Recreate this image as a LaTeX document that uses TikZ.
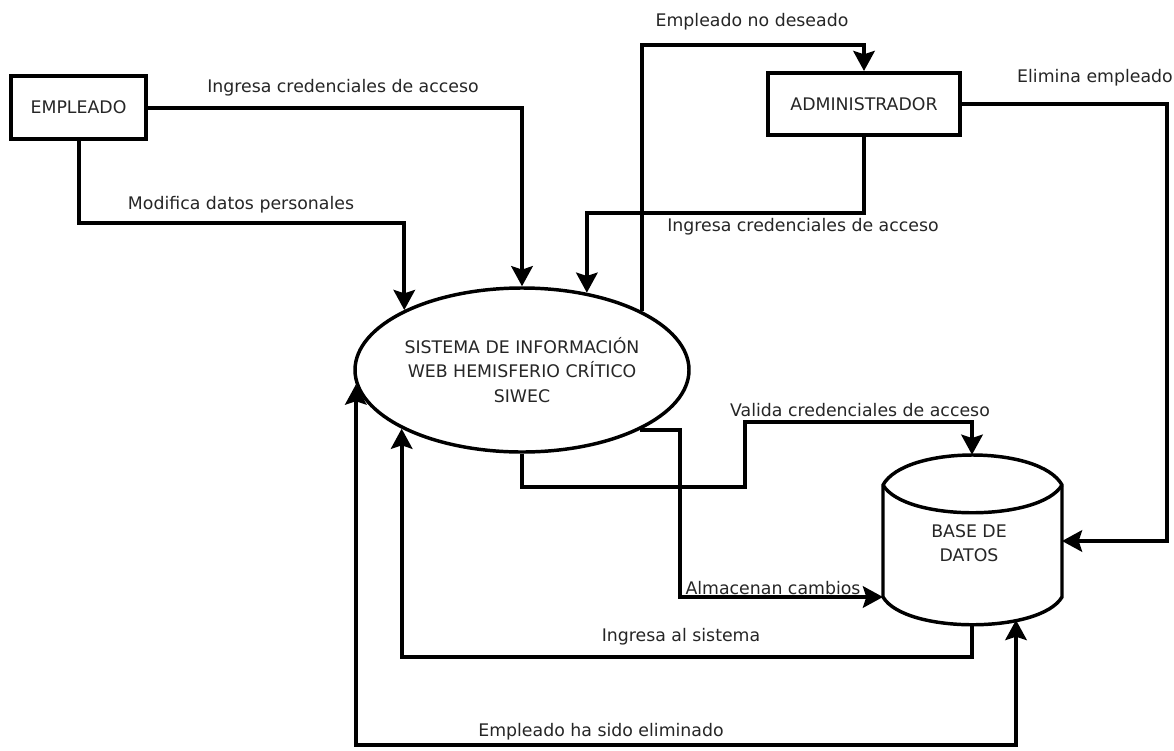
\documentclass[tikz,border=0pt]{standalone}
\usepackage{fontspec}
\setmainfont{DejaVu Sans}
\usetikzlibrary{arrows.meta,shapes.geometric}
\begin{document}
\begin{tikzpicture}[x=0.75pt,y=-0.75pt,
  every node/.style={font=\fontsize{13}{18.4}\selectfont, text=black!85},
  entity/.style={draw=black, line width=3pt, inner sep=0pt, minimum height=47pt},
  proc/.style={draw=black, ellipse, line width=2.6pt, inner sep=0pt, minimum width=250.5pt, minimum height=123pt, align=center},
  tip/.style={},
  flow/.style={draw=black, line width=3pt, -{Stealth[length=15pt,width=16pt,inset=2.5pt]}},
  flowboth/.style={draw=black, line width=3pt, {Stealth[length=15pt,width=16pt,inset=2.5pt]}-{Stealth[length=15pt,width=16pt,inset=2.5pt]}},
  lbl/.style={inner sep=0pt}
]
\useasboundingbox (0,0) rectangle (1174,750);
\fill[white] (0,0) rectangle (1174,750);

% entities
\node[entity, minimum width=101.25pt] (empleado) at (78.5,107.5) {EMPLEADO};
\node[entity, minimum width=144pt, minimum height=46.5pt] (admin) at (864,104) {ADMINISTRADOR};
\node[proc] (sistema) at (522,370) {SISTEMA DE INFORMACIÓN\\WEB HEMISFERIO CRÍTICO\\SIWEC};

% database cylinder
\node[inner sep=0pt, minimum width=134pt, minimum height=127.5pt] (bd) at (972,540) {};
\node[lbl, align=center] (bdtext) at (969,543) {BASE DE\\DATOS};
\coordinate (bdTL) at (883,485);
\coordinate (bdTR) at (1062,485);
\coordinate (bdBL) at (883,597);
\coordinate (bdBR) at (1062,597);
\coordinate (bdR) at (1062,541);
\coordinate (bdB2) at (1016,620);
\coordinate (bdB1) at (972,625);
\draw[line width=2.6pt, line join=miter]
  (bdTL) .. controls (905,445) and (1040,445) .. (bdTR)
  -- (bdBR) .. controls (1040,634) and (905,634) .. (bdBL) -- cycle;
\draw[line width=2.6pt] (bdTL) .. controls (905,522) and (1040,522) .. (bdTR);

% connectors
\draw[flow] (empleado.east) -| (sistema.north);
\draw[flow] (empleado.south) |- (300,223) -| (sistema.153.4);
\draw[flow] (admin.south) |- (700,213) -| (sistema.50.3);
\draw[flow] (sistema.26.2) |- (750,45) -| (admin.north);
\draw[flow] (admin.east) -| (1167,541) -- (bdR);
\draw[flow] (sistema.south) |- (745,487) -- (745,422) -| (bd.north);
\draw[flow] (sistema.333.4) -| (680,597) -- (bdBL);
\draw[flow] (bdB1) |- (700,657) -| (sistema.206.6);
\draw[flowboth] (sistema.185.4) |- (700,745) -| (bdB2);

% labels
\node[lbl] (l1) at (343,88) {Ingresa credenciales de acceso};
\node[lbl] (l2) at (241,205) {Modifica datos personales};
\node[lbl] (l3) at (803,227) {Ingresa credenciales de acceso};
\node[lbl] (l4) at (752,22) {Empleado no deseado};
\node[lbl] (l5) at (1095,78) {Elimina empleado};
\node[lbl] (l6) at (860,410) {Valida credenciales de acceso};
\node[lbl] (l7) at (773,588) {Almacenan cambios};
\node[lbl] (l8) at (681,637) {Ingresa al sistema};
\node[lbl] (l9) at (601,732) {Empleado ha sido eliminado};
\end{tikzpicture}
\end{document}
